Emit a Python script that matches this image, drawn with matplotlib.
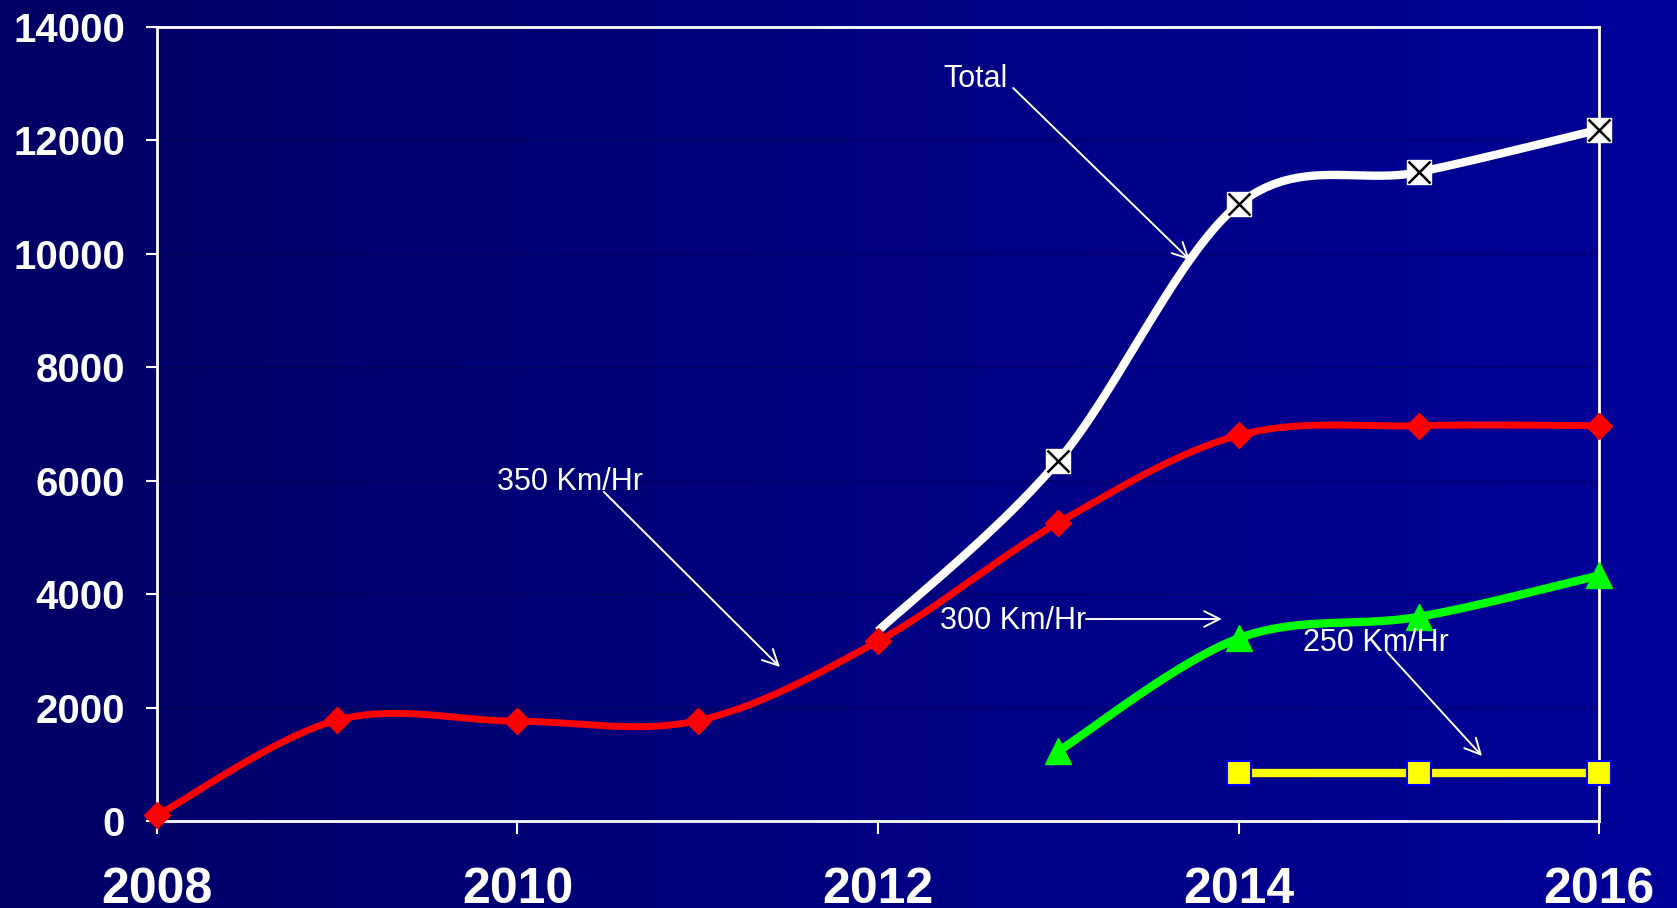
import numpy as np
import matplotlib
matplotlib.use("Agg")
import matplotlib.pyplot as plt
from matplotlib.colors import LinearSegmentedColormap

# ---- data -------------------------------------------------------------
years = [2008, 2009, 2010, 2011, 2012, 2013, 2014, 2015, 2016]
speed_350 = [100, 1780, 1760, 1770, 3170, 5260, 6800, 6970, 6970]

total_years = [2012, 2013, 2014, 2015, 2016]
total_km = [3350, 6350, 10870, 11440, 12190]

speed_300_years = [2013, 2014, 2015, 2016]
speed_300 = [1230, 3220, 3600, 4330]

speed_250_years = [2014, 2015, 2016]
speed_250 = [850, 850, 850]

x_ticks = [2008, 2010, 2012, 2014, 2016]
y_ticks = list(range(0, 14001, 2000))


def smooth(xs, ys, n=60):
    """Cubic Bezier smoothing through every point (Catmull-Rom style)."""
    p = np.column_stack([xs, ys]).astype(float)
    pad = np.vstack([p[:1], p, p[-1:]])
    t = np.linspace(0, 1, n)[:, None]
    pts = []
    for i in range(len(p) - 1):
        p0, p3 = pad[i + 1], pad[i + 2]
        c1 = p0 + (pad[i + 2] - pad[i]) / 6.0
        c2 = p3 - (pad[i + 3] - pad[i + 1]) / 6.0
        seg = ((1 - t) ** 3) * p0 + 3 * ((1 - t) ** 2) * t * c1 \
            + 3 * (1 - t) * t ** 2 * c2 + t ** 3 * p3
        pts.append(seg if i == 0 else seg[1:])
    pts = np.vstack(pts)
    return pts[:, 0], pts[:, 1]


plt.rcParams["font.family"] = ["Liberation Sans", "DejaVu Sans"]

fig = plt.figure(figsize=(16.77, 9.08), dpi=100)

# background gradient, dark navy to blue from left to right
bg = fig.add_axes([0, 0, 1, 1], zorder=-10)
grad = np.linspace(0, 1, 512)[None, :]
cmap = LinearSegmentedColormap.from_list("navy", ["#000066", "#000099"])
bg.imshow(grad, aspect="auto", cmap=cmap, extent=[0, 1, 0, 1])
bg.set_axis_off()

ax = fig.add_axes([0.0936, 0.0958, 0.8599, 0.8745])
ax.patch.set_alpha(0)

ax.set_xlim(2008, 2016)
ax.set_ylim(0, 14000)

# faint horizontal grid
for yv in y_ticks[1:-1]:
    ax.axhline(yv, color="black", lw=1, alpha=0.25, zorder=0)

# Total
tx, ty = smooth(total_years, total_km)
ax.plot(tx, ty, color="white", lw=6, solid_capstyle="butt", zorder=3, clip_on=False)
ax.plot(total_years[1:], total_km[1:], ls="none", marker="s", ms=17,
        mfc="white", mec="white", zorder=4, clip_on=False)
ax.plot(total_years[1:], total_km[1:], ls="none", marker="x", ms=16,
        mec="black", mew=1.8, zorder=5, clip_on=False)

# 350 Km/Hr
rx, ry = smooth(years, speed_350)
ax.plot(rx, ry, color="#ff0000", lw=5, zorder=3, clip_on=False)
ax.plot(years, speed_350, ls="none", marker="D", ms=13,
        mfc="#ff0000", mec="#ff0000", zorder=4, clip_on=False)

# 300 Km/Hr
gx, gy = smooth(speed_300_years, speed_300)
ax.plot(gx, gy, color="#00ff00", lw=6, zorder=3, clip_on=False)
ax.plot(speed_300_years, speed_300, ls="none", marker="^", ms=19,
        mfc="#00ff00", mec="#00ff00", zorder=4, clip_on=False)

# 250 Km/Hr
ax.plot(speed_250_years, speed_250, color="#ffff00", lw=6, zorder=3,
        marker="s", ms=17, mfc="#ffff00", mec="#0000ff", mew=1.5, clip_on=False)

# axes styling
for s in ax.spines.values():
    s.set_color("white")
    s.set_linewidth(2)
ax.set_xticks(x_ticks)
ax.set_yticks(y_ticks)
ax.tick_params(axis="y", colors="white", length=8, width=1.5, pad=15,
               labelsize=29)
ax.tick_params(axis="x", colors="white", length=9, width=1.5, pad=24,
               labelsize=36)
for lab in ax.get_xticklabels() + ax.get_yticklabels():
    lab.set_fontweight("bold")
    lab.set_color("white")

# annotations
lab_kw = dict(color="white", fontsize=22, ha="center", va="baseline", zorder=6)
arr_kw = dict(arrowstyle="->", color="white", lw=1.4, mutation_scale=28,
              shrinkA=0, shrinkB=0)

ax.text(2012.54, 12942, "Total", **lab_kw)
ax.annotate("", xy=(2013.73, 9892), xytext=(2012.75, 12924), arrowprops=arr_kw, zorder=6)

ax.text(2010.29, 5836, "350 Km/Hr", **lab_kw)
ax.annotate("", xy=(2011.456, 2715), xytext=(2010.48, 5801), arrowprops=arr_kw, zorder=6)

ax.text(2012.75, 3385, "300 Km/Hr", **lab_kw)
ax.annotate("", xy=(2013.908, 3562), xytext=(2013.154, 3562), arrowprops=arr_kw, zorder=6)

ax.text(2014.763, 2997, "250 Km/Hr", **lab_kw)
ax.annotate("", xy=(2015.351, 1146), xytext=(2014.824, 2980), arrowprops=arr_kw, zorder=6)

fig.savefig("out.png", dpi=100)
